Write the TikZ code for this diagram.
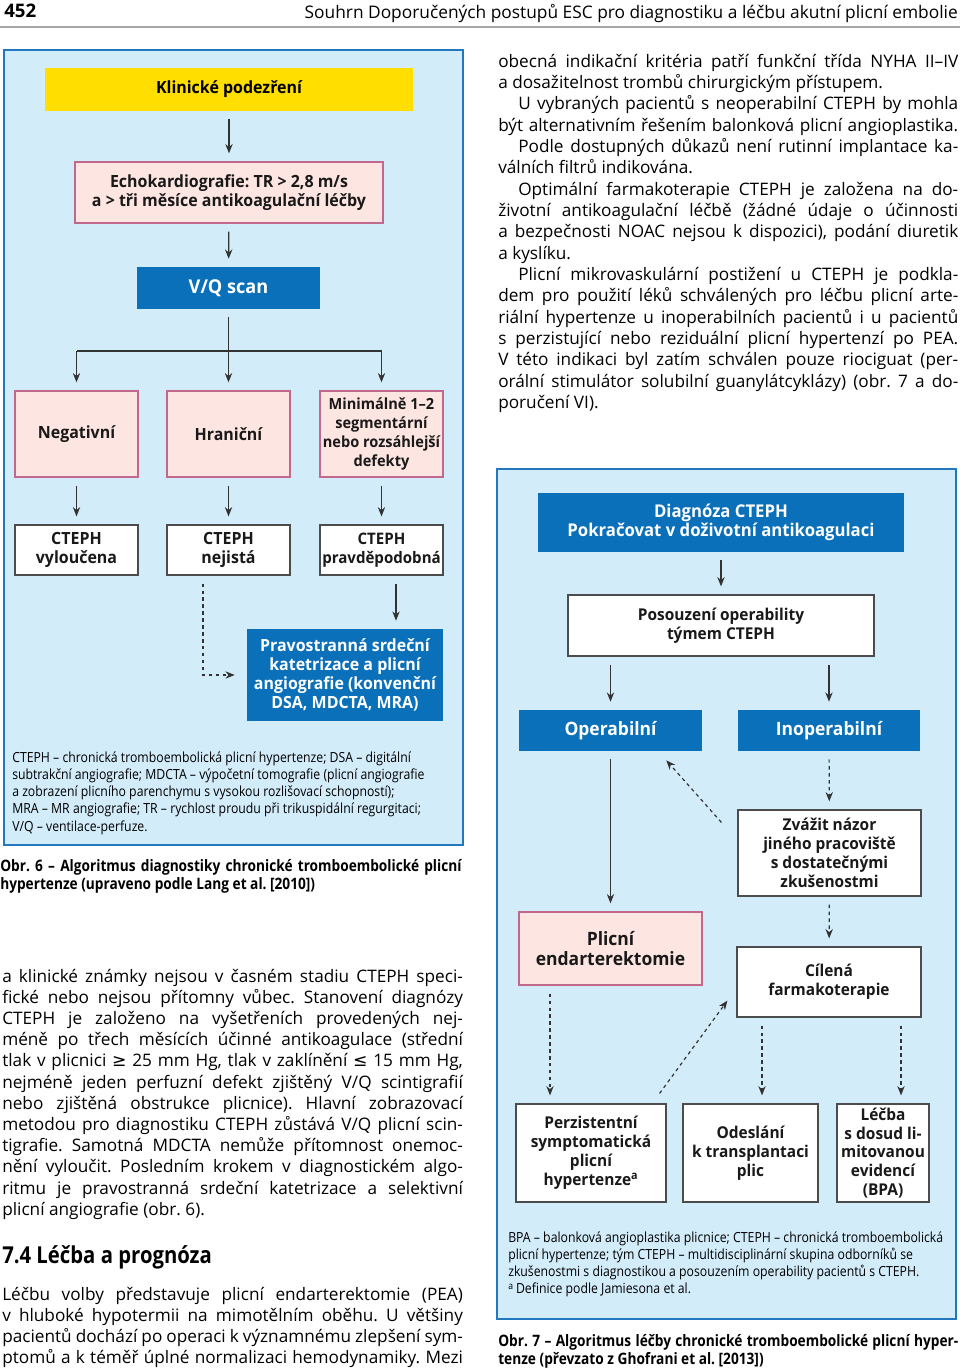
\documentclass[tikz,border=0pt]{standalone}
\usepackage{fontspec}
\setmainfont{Open Sans}
\newfontfamily\boxfont[FakeStretch=0.95]{Open Sans}
\newfontfamily\legfont[FakeStretch=0.88]{Open Sans}
\newfontfamily\capfont[FakeStretch=0.87]{Open Sans}
\newfontfamily\symfont{DejaVu Sans}
\usepackage{tikz}
\usetikzlibrary{arrows.meta,calc}

\definecolor{panelblue}{HTML}{D3ECFA}
\definecolor{frameblue}{HTML}{2277BF}
\definecolor{boxblue}{HTML}{0A70B9}
\definecolor{boxyellow}{HTML}{FFDE00}
\definecolor{pinkfill}{HTML}{FDE5E1}
\definecolor{pinkline}{HTML}{C2688C}
\definecolor{linegray}{HTML}{333333}

\tikzset{sz/.style 2 args={minimum width=#1*0.75pt, minimum height=#2*0.75pt}}

\begin{document}
\frenchspacing
\begin{tikzpicture}[x=0.75pt,y=-0.75pt]
                \tikzstyle{every node}+=[inner sep=0pt]
                \tikzstyle{yellowbox}=[fill=boxyellow, align=center]
                \tikzstyle{pinkbox}=[fill=pinkfill, draw=pinkline, line width=1pt, align=center, text=black!90]
                \tikzstyle{bluebox}=[fill=boxblue, align=center, text=white]
                \tikzstyle{whitebox}=[fill=white, draw=black!70, line width=0.9pt, align=center, text=black!90]
                \tikzstyle{figa}=[font=\boxfont\bfseries\fontsize{12.6}{14.3}\selectfont]
                \tikzstyle{figb}=[font=\boxfont\bfseries\fontsize{12.2}{14.2}\selectfont]
                \tikzstyle{arr}=[draw=linegray, line width=0.9pt, -{Stealth[length=7pt,width=5.5pt]}, shorten <=6pt, shorten >=6pt]
                \tikzstyle{darr}=[arr, dash pattern=on 2.6pt off 2.6pt]
                \tikzstyle{bodyline}=[anchor=base west, font=\fontsize{12.9}{14}\selectfont]
                \tikzstyle{legline}=[anchor=base west, font=\legfont\fontsize{10.45}{12}\selectfont]
                \tikzstyle{capline}=[anchor=base west, font=\capfont\bfseries\fontsize{11.8}{13}\selectfont]
                \useasboundingbox (0,0) rectangle (960,1371);
                % page head
                \node[anchor=base west, font=\bfseries\fontsize{14}{16}\selectfont] (pageno) at (4,17) {452};
                \node[anchor=base east, font=\fontsize{13}{15}\selectfont] (running) at (958,18) {Souhrn Doporučených postupů ESC pro diagnostiku a léčbu akutní plicní embolie};
                \draw [black!35, line width=0.8pt] (0,27) -- (960,27);
                % text, right column
                \foreach \t [count=\i from 0] in {
                    {obecná indikační kritéria patří funkční třída NYHA II–IV},
                    {a dosažitelnost trombů chirurgickým přístupem.\hfill},
                    {\hspace*{15pt}U vybraných pacientů s neoperabilní CTEPH by mohla},
                    {být alternativním řešením balonková plicní angioplastika.},
                    {\hspace*{15pt}Podle dostupných důkazů není rutinní implantace ka-},
                    {válních filtrů indikována.\hfill},
                    {\hspace*{15pt}Optimální farmakoterapie CTEPH je založena na do-},
                    {životní antikoagulační léčbě (žádné údaje o účinnosti},
                    {a bezpečnosti NOAC nejsou k dispozici), podání diuretik},
                    {a kyslíku.\hfill},
                    {\hspace*{15pt}Plicní mikrovaskulární postižení u CTEPH je podkla-},
                    {dem pro použití léků schválených pro léčbu plicní arte-},
                    {riální hypertenze u inoperabilních pacientů i u pacientů},
                    {s perzistující nebo reziduální plicní hypertenzí po PEA.},
                    {V této indikaci byl zatím schválen pouze riociguat (per-},
                    {orální stimulátor solubilní guanylátcyklázy) (obr. 7 a do-},
                    {poručení VI).\hfill}}
                    \node[bodyline] at (498,67+21.35*\i) {\makebox[345pt][s]{\t}};
                % text, left column
                \foreach \t [count=\i from 0] in {
                    {a klinické známky nejsou v časném stadiu CTEPH speci-},
                    {fické nebo nejsou přítomny vůbec. Stanovení diagnózy},
                    {CTEPH je založeno na vyšetřeních provedených nej-},
                    {méně po třech měsících účinné antikoagulace (střední},
                    {tlak v plicnici {\symfont ≥} 25 mm Hg, tlak v zaklínění {\symfont ≤} 15 mm Hg,},
                    {nejméně jeden perfuzní defekt zjištěný V/Q scintigrafií},
                    {nebo zjištěná obstrukce plicnice). Hlavní zobrazovací},
                    {metodou pro diagnostiku CTEPH zůstává V/Q plicní scin-},
                    {tigrafie. Samotná MDCTA nemůže přítomnost onemoc-},
                    {nění vyloučit. Posledním krokem v diagnostickém algo-},
                    {ritmu je pravostranná srdeční katetrizace a selektivní},
                    {plicní angiografie (obr. 6).\hfill}}
                    \node[bodyline] at (2,982+21.2*\i) {\makebox[345.5pt][s]{\t}};
                \node[anchor=base west, font=\capfont\bfseries\fontsize{17.5}{19}\selectfont] (section) at (2,1263) {7.4 Léčba a prognóza};
                \foreach \t [count=\i from 0] in {
                    {Léčbu volby představuje plicní endarterektomie (PEA)},
                    {v hluboké hypotermii na mimotělním oběhu. U většiny},
                    {pacientů dochází po operaci k významnému zlepšení sym-},
                    {ptomů a k téměř úplné normalizaci hemodynamiky. Mezi}}
                    \node[bodyline] at (2,1300+21*\i) {\makebox[345.5pt][s]{\t}};
                % Obr. 6
                \draw [frameblue, line width=1.6pt, fill=panelblue] (4,50) rectangle (463,845);
                \node[yellowbox, figa, sz={368}{43}] (suspect) at (229,89.5) {Klinické podezření};
                \node[pinkbox, figa, sz={308}{61}] (echo) at (229,192.5) {Echokardiografie: TR > 2,8 m/s\\a > tři měsíce antikoagulační léčby};
                \node[bluebox, sz={183}{42}, font=\boxfont\bfseries\fontsize{14.3}{16}\selectfont] (vq) at (228.5,288) {V/Q scan};
                \node[pinkbox, figa, sz={123}{86}] (neg) at (76.5,434) {Negativní};
                \node[pinkbox, figa, sz={123}{86}] (hran) at (228.5,434) {Hraniční};
                \node[pinkbox, sz={123}{86}, font=\boxfont\bfseries\fontsize{11.5}{14.3}\selectfont] (mini) at (381.5,434) {Minimálně 1–2\\segmentární\\nebo rozsáhlejší\\defekty};
                \node[whitebox, figa, sz={123}{50}] (excl) at (76.5,550) {CTEPH\\vyloučena};
                \node[whitebox, figa, sz={123}{50}] (unsure) at (228.5,550) {CTEPH\\nejistá};
                \node[whitebox, sz={123}{50}, font=\boxfont\bfseries\fontsize{11.9}{14.3}\selectfont] (likely) at (381.5,550) {CTEPH\\pravděpodobná};
                \node[bluebox, figa, sz={196}{92}] (cath) at (345,675) {Pravostranná srdeční\\katetrizace a plicní\\angiografie (konvenční\\DSA, MDCTA, MRA)};
                \coordinate (split) at (228.5,351);
                \draw [arr] (suspect) -- (echo);
                \draw [arr] (echo) -- (vq);
                \draw [arr] (vq) -- (hran);
                \draw [draw=linegray, line width=0.9pt] (neg.north |- split) -- (mini.north |- split);
                \draw [arr, shorten <=0pt] (neg.north |- split) -- (neg.north);
                \draw [arr, shorten <=0pt] (mini.north |- split) -- (mini.north);
                \draw [arr] (neg) -- (excl);
                \draw [arr] (hran) -- (unsure);
                \draw [arr] (mini) -- (likely);
                \draw [darr, shorten >=9pt] ($(unsure.south)+(-25.5,0)$) |- (cath.west);
                \draw [arr] ($(likely.south)+(14.5,0)$) -- ($(cath.north)+(51,0)$);
                \foreach \t [count=\i from 0] in {
                    {CTEPH – chronická tromboembolická plicní hypertenze; DSA – digitální},
                    {subtrakční angiografie; MDCTA – výpočetní tomografie (plicní angiografie},
                    {a zobrazení plicního parenchymu s vysokou rozlišovací schopností);},
                    {MRA – MR angiografie; TR – rychlost proudu při trikuspidální regurgitaci;},
                    {V/Q – ventilace-perfuze.}}
                    \node[legline] at (12,762+17.25*\i) {\t};
                \node[capline] (cap6a) at (0,871) {\makebox[346pt][s]{Obr. 6 – Algoritmus diagnostiky chronické tromboembolické plicní}};
                \node[capline] (cap6b) at (0,889) {hypertenze (upraveno podle Lang et al. [2010])};
                % Obr. 7
                \draw [frameblue, line width=1.6pt, fill=panelblue] (497,469) rectangle (956,1319);
                \node[bluebox, sz={366}{59}, font=\boxfont\bfseries\fontsize{13.2}{14.6}\selectfont] (diag) at (721,522.5) {Diagnóza CTEPH\\Pokračovat v doživotní antikoagulaci};
                \node[whitebox, figb, sz={306}{61}] (team) at (721,625.5) {Posouzení operability\\týmem CTEPH};
                \node[bluebox, sz={183}{41}, font=\boxfont\bfseries\fontsize{13.8}{16}\selectfont] (oper) at (610.5,730.5) {Operabilní};
                \node[bluebox, sz={182}{41}, font=\boxfont\bfseries\fontsize{13.8}{16}\selectfont] (inop) at (829,730.5) {Inoperabilní};
                \node[whitebox, figb, sz={183}{86}] (second) at (829.5,853) {Zvážit názor\\jiného pracoviště\\s dostatečnými\\zkušenostmi};
                \node[pinkbox, sz={183}{73}, font=\boxfont\bfseries\fontsize{13.8}{14.3}\selectfont] (pea) at (610.5,948.5) {Plicní\\endarterektomie};
                \node[whitebox, figb, sz={184}{70}] (drugs) at (829,982) {Cílená\\farmakoterapie};
                \node[whitebox, figb, sz={150}{98}] (persist) at (591,1153) {Perzistentní\\symptomatická\\plicní\\hypertenze\textsuperscript{a}};
                \node[whitebox, figb, sz={135}{98}] (transpl) at (750.5,1153) {Odeslání\\k transplantaci\\plic};
                \node[whitebox, figb, sz={92}{98}] (bpa) at (883,1153) {Léčba\\s dosud li-\\mitovanou\\evidencí\\(BPA)};
                \draw [arr] (diag) -- (team);
                \draw [arr] (team.south -| oper) -- (oper);
                \draw [arr] (team.south -| inop) -- (inop);
                \draw [arr] (oper) -- (pea);
                \draw [darr] (inop) -- (second);
                \draw [darr] (second) -- (drugs);
                \draw [darr, shorten <=0pt, shorten >=0pt] ($(second.north west)+(-16,13)$) -- ($(oper.south east)+(-36,9)$);
                \draw [darr] ($(pea.south)+(-60.5,0)$) -- ($(persist.north)+(-41,0)$);
                \draw [darr, shorten <=0pt, shorten >=0pt] ($(persist.north east)+(-7,-10)$) -- ($(drugs.south west)+(-9,-17)$);
                \draw [darr] ($(drugs.south)+(-67,0)$) -- ($(transpl.north)+(11.5,0)$);
                \draw [darr] ($(drugs.south)+(72,0)$) -- ($(bpa.north)+(18,0)$);
                \foreach \t [count=\i from 0] in {
                    {BPA – balonková angioplastika plicnice; CTEPH – chronická tromboembolická},
                    {plicní hypertenze; tým CTEPH – multidisciplinární skupina odborníků se},
                    {zkušenostmi s diagnostikou a posouzením operability pacientů s CTEPH.},
                    {\textsuperscript{a}\,Definice podle Jamiesona et al.}}
                    \node[legline] at (508,1242+17.3*\i) {\t};
                \node[capline] (cap7a) at (498,1346) {\makebox[345pt][s]{Obr. 7 – Algoritmus léčby chronické tromboembolické plicní hyper-}};
                \node[capline] (cap7b) at (498,1364) {tenze (převzato z Ghofrani et al. [2013])};
            \end{tikzpicture}
\end{document}
